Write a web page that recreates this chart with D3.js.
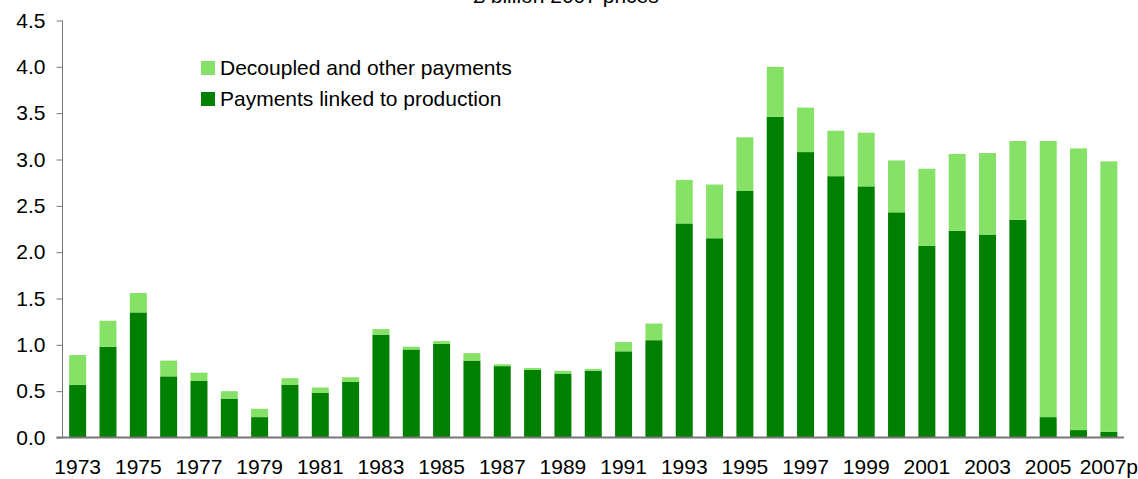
<!DOCTYPE html>
<html>
<head>
<meta charset="utf-8">
<script src="https://cdn.jsdelivr.net/npm/d3@7"></script>
<style>
  body { margin: 0; background: #fff; }
  text { font-family: "Liberation Sans", Arial, sans-serif; fill: #000; }
</style>
</head>
<body>
<div id="chart"></div>
<script>
// years on the x axis
var years = d3.range(1973, 2008);
// £ billion, 2007 prices
var linked = [0.57, 0.98, 1.35, 0.66, 0.61, 0.42, 0.22, 0.57, 0.48, 0.60,
              1.11, 0.95, 1.01, 0.83, 0.77, 0.73, 0.69, 0.72, 0.93, 1.05,
              2.31, 2.15, 2.66, 3.46, 3.08, 2.82, 2.71, 2.43, 2.07, 2.23,
              2.19, 2.35, 0.22, 0.08, 0.06];
var decoupled = [0.32, 0.28, 0.21, 0.17, 0.09, 0.08, 0.09, 0.07, 0.06, 0.05,
                 0.06, 0.03, 0.03, 0.08, 0.02, 0.02, 0.03, 0.02, 0.10, 0.18,
                 0.47, 0.58, 0.58, 0.54, 0.48, 0.49, 0.58, 0.56, 0.83, 0.83,
                 0.88, 0.85, 2.98, 3.04, 2.92];
var yTicks = [0, 0.5, 1, 1.5, 2, 2.5, 3, 3.5, 4, 4.5];
var seriesNames = ["Payments linked to production", "Decoupled and other payments"];
var colors = ["#008000", "#86e266"];

var width = 1138, height = 479;
var margin = {top: 20.5, right: 14, bottom: 41.5, left: 62.5};
var fontSize = "21px";

var svg = d3.select("#chart")
  .append("svg")
  .attr("width", width)
  .attr("height", height);

var x = d3.scaleBand()
  .domain(years)
  .range([margin.left, width - margin.right])
  .paddingInner(0.44)
  .paddingOuter(0.22);

var y = d3.scaleLinear()
  .domain([0, 4.5])
  .range([height - margin.bottom, margin.top]);

// build table for the stack
var table = years.map(function(yr, i) {
  return {year: yr, linked: linked[i], decoupled: decoupled[i]};
});
var stacked = d3.stack().keys(["linked", "decoupled"])(table);

svg.selectAll("g.layer")
  .data(stacked)
  .enter()
  .append("g")
    .attr("class", "layer")
    .attr("fill", function(d, i) { return colors[i]; })
  .selectAll("rect")
  .data(function(d) { return d; })
  .enter()
  .append("rect")
    .attr("x", function(d) { return x(d.data.year); })
    .attr("y", function(d) { return y(d[1]); })
    .attr("width", x.bandwidth())
    .attr("height", function(d) { return y(d[0]) - y(d[1]); });

// y axis
var yAxis = svg.append("g")
  .attr("transform", "translate(" + margin.left + ",0)")
  .call(d3.axisLeft(y).tickValues(yTicks).tickSize(6).tickPadding(11)
        .tickFormat(d3.format(".1f")));
yAxis.selectAll("path, line").attr("stroke", "#777");
yAxis.select(".domain").attr("d", "M0," + y(4.5) + "V" + y(0));
yAxis.selectAll("text").style("font-size", fontSize).attr("fill", "#000");

// x axis
var xAxis = svg.append("g")
  .attr("transform", "translate(0," + y(0) + ")")
  .call(d3.axisBottom(x).tickSize(0).tickPadding(22)
        .tickFormat(function(d, i) {
          if (i % 2 != 0) return "";
          return d == 2007 ? "2007p" : d;
        }));
xAxis.select(".domain")
  .attr("stroke", "#777")
  .attr("stroke-width", 2)
  .attr("d", "M" + (margin.left - 6) + ",0H" + (width - margin.right));
xAxis.selectAll("text").style("font-size", fontSize).attr("fill", "#000");

// title
svg.append("text")
  .attr("x", 566)
  .attr("y", 3)
  .attr("text-anchor", "middle")
  .style("font-size", fontSize)
  .text("£ billion 2007 prices");

// legend
var legend = svg.append("g").attr("transform", "translate(201,61)");
[1, 0].forEach(function(k, i) {
  legend.append("rect")
    .attr("x", 0).attr("y", i * 31)
    .attr("width", 14).attr("height", 14)
    .attr("fill", colors[k]);
  legend.append("text")
    .attr("x", 19).attr("y", i * 31 + 7)
    .attr("dy", "0.35em")
    .style("font-size", fontSize)
    .text(seriesNames[k]);
});
</script>
</body>
</html>
